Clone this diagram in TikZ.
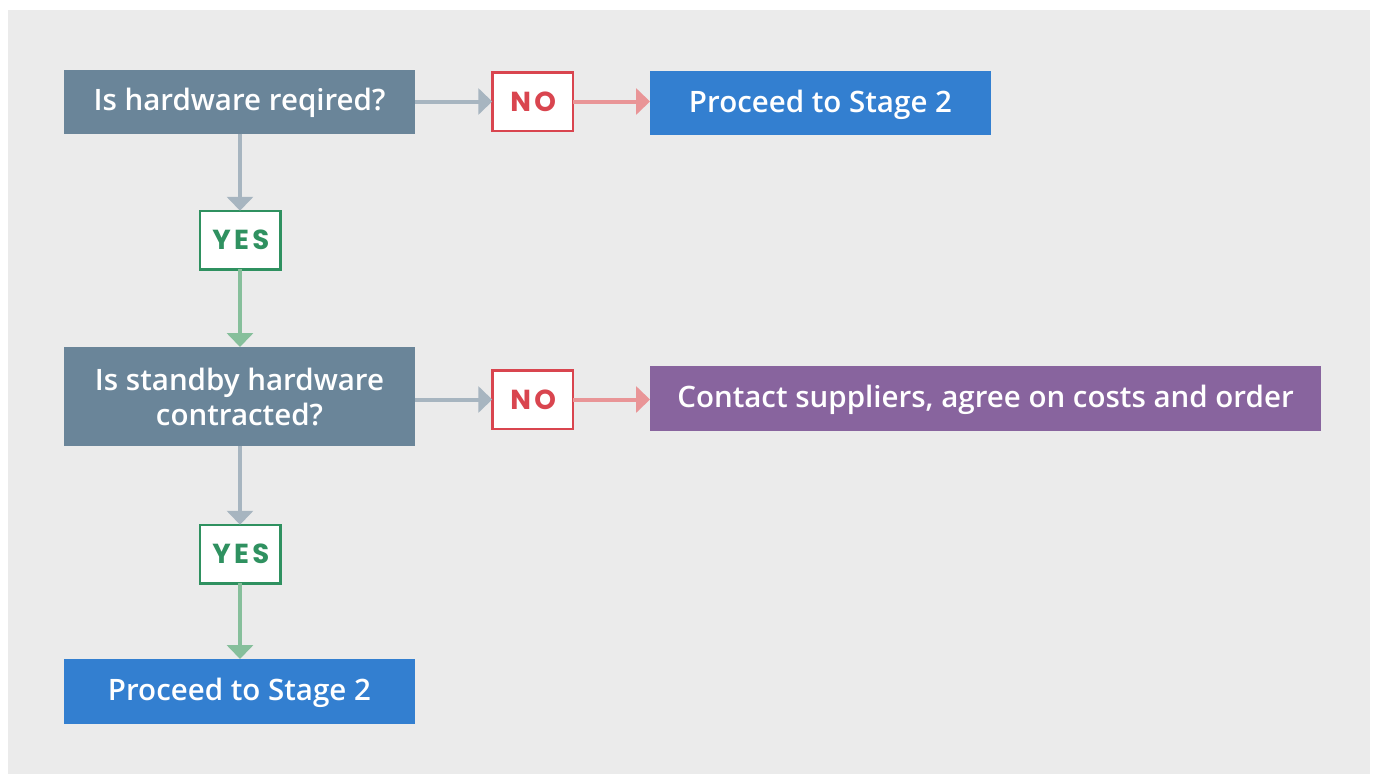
\documentclass[tikz,border=0pt]{standalone}
\usepackage{fontspec}
\setmainfont{Open Sans}
\def\boxsize{29}
\IfFontExistsTF{Open Sans SemiBold}{\newfontfamily\boxfont{Open Sans SemiBold}\def\boxsize{29.5}}{%
 \IfFontExistsTF{Open Sans Semibold}{\newfontfamily\boxfont{Open Sans Semibold}\def\boxsize{29.5}}{%
  \IfFontExistsTF{OpenSans-SemiBold}{\newfontfamily\boxfont{OpenSans-SemiBold}\def\boxsize{29.5}}{%
   \newfontfamily\boxfont{Open Sans Bold}}}}
\IfFontExistsTF{Poppins Bold}{\newfontfamily\labfont{Poppins Bold}[LetterSpace=12]}{\newfontfamily\labfont{Open Sans Bold}[LetterSpace=8]}
\usetikzlibrary{arrows.meta}
\definecolor{panel}{HTML}{EBEBEB}
\definecolor{qbox}{HTML}{6A8599}
\definecolor{bluebox}{HTML}{337FD0}
\definecolor{purplebox}{HTML}{88649E}
\definecolor{nored}{HTML}{D9454F}
\definecolor{yesgreen}{HTML}{2F9160}
\definecolor{arrgray}{HTML}{A7B5C0}
\definecolor{arrpink}{HTML}{E99597}
\definecolor{arrgreen}{HTML}{86BF9B}
\tikzset{
  base/.style={inner sep=0pt, outer sep=0pt, align=center, text=white, font=\boxfont\fontsize{\boxsize}{35}\selectfont},
  oneline/.style={text height=22pt, text depth=4pt},
  qnode/.style={base, fill=qbox},
  bnode/.style={base, fill=bluebox},
  pnode/.style={base, fill=purplebox},
  lab/.style={inner sep=0pt, outer sep=0pt, line width=2.5pt, fill=white, minimum width=80.5pt, minimum height=58.5pt, font=\labfont\fontsize{27.5}{30}\selectfont},
  nonode/.style={lab, draw=nored, text=nored},
  yesnode/.style={lab, draw=yesgreen, text=yesgreen},
  conn/.style={line width=4pt, -{Triangle[width=26pt,length=14pt]}},
  cgray/.style={conn, draw=arrgray},
  cpink/.style={conn, draw=arrpink},
  cgreen/.style={conn, draw=arrgreen},
}
\begin{document}
\begin{tikzpicture}[x=1pt,y=-1pt]
\useasboundingbox (0,0) rectangle (1375,774);
\fill[panel] (8,10) rectangle (1370,774);
% nodes
\node[qnode, oneline, minimum width=351pt, minimum height=64pt] (q1) at (239.5,101.5) {Is hardware reqired?};
\node[nonode] (n1) at (532.5,101.5) {\hspace*{1.5pt}NO};
\node[bnode, oneline, minimum width=341pt, minimum height=64pt] (p1) at (820.5,103) {Proceed to Stage 2};
\node[yesnode] (y1) at (240,240) {\hspace*{1.5pt}YES};
\node[qnode, minimum width=351pt, minimum height=99pt] (q2) at (239.5,396.5) {\raisebox{0pt}{Is standby hardware}\\contracted?};
\node[nonode] (n2) at (532.5,399.5) {\hspace*{1.5pt}NO};
\node[pnode, oneline, minimum width=671pt, minimum height=65pt] (c2) at (985.5,398.5) {Contact suppliers, agree on costs and order};
\node[yesnode] (y2) at (240,554) {\hspace*{1.5pt}YES};
\node[bnode, oneline, minimum width=351pt, minimum height=65pt] (p2) at (239.5,691.5) {Proceed to Stage 2};
% connectors
\draw[cgray] (q1.east |- n1.west) -- (n1.west);
\draw[cpink] (n1.east) -- (p1.west |- n1.east);
\draw[cgray] (q1.south -| y1.north) -- (y1.north);
\draw[cgreen] (y1.south) -- (q2.north -| y1.south);
\draw[cgray] (q2.east |- n2.west) -- (n2.west);
\draw[cpink] (n2.east) -- (c2.west |- n2.east);
\draw[cgray] (q2.south -| y2.north) -- (y2.north);
\draw[cgreen] (y2.south) -- (p2.north -| y2.south);
\end{tikzpicture}
\end{document}
